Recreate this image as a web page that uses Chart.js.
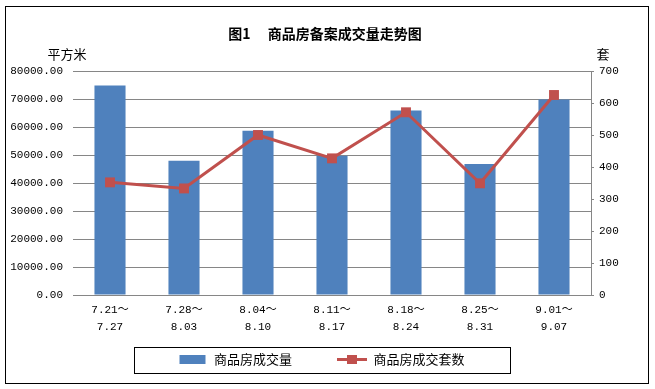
<!DOCTYPE html>
<html>
<head>
<meta charset="utf-8">
<title>商品房备案成交量走势图</title>
<script src="https://cdn.jsdelivr.net/npm/chart.js@4.4.1/dist/chart.umd.min.js"></script>
<style>
    html, body { margin: 0; padding: 0; background: #fff; }
    canvas { display: block; }
</style>
</head>
<body>
<canvas id="trendChart" width="655" height="389"></canvas>
<script>
const chartTitle = '图1　 商品房备案成交量走势图';
const leftUnit = '平方米';
const rightUnit = '套';
const weekLabels = [
    ['7.21～', '7.27'],
    ['7.28～', '8.03'],
    ['8.04～', '8.10'],
    ['8.11～', '8.17'],
    ['8.18～', '8.24'],
    ['8.25～', '8.31'],
    ['9.01～', '9.07']
];
const areaSold = [74800, 47960, 58700, 49750, 65860, 46780, 69800];
const unitsSold = [352, 333, 500, 427, 571, 349, 625];
const areaAxis = { max: 80000, step: 10000 };
const unitAxis = { max: 700, step: 100 };

const BLUE = '#4F81BD';
const RED = '#C0504D';
const GRID = '#868686';
const tickFont = { family: "'Liberation Mono', 'Noto Sans CJK SC', monospace", size: 11 };
const cjkFont = "'Noto Sans CJK SC', sans-serif";
const ICON_W = 30;

function makeIcon(draw) {
    const c = document.createElement('canvas');
    c.width = ICON_W;
    c.height = 11;
    draw(c.getContext('2d'));
    return c;
}

const barIcon = makeIcon((ctx) => {
    ctx.fillStyle = BLUE;
    ctx.fillRect(2, 1, 26, 9);
});
const lineIcon = makeIcon((ctx) => {
    ctx.strokeStyle = RED;
    ctx.lineWidth = 3;
    ctx.beginPath();
    ctx.moveTo(0, 5.5);
    ctx.lineTo(ICON_W, 5.5);
    ctx.stroke();
    ctx.fillStyle = RED;
    ctx.fillRect(10, 1, 10, 9);
});

const framePlugin = {
    id: 'frame',
    beforeDraw(chart) {
        const ctx = chart.ctx;
        ctx.save();
        ctx.fillStyle = '#fff';
        ctx.fillRect(0, 0, chart.width, chart.height);
        ctx.restore();
    },
    afterDraw(chart) {
        const ctx = chart.ctx;
        const { left, right, top } = chart.chartArea;
        ctx.save();
        ctx.strokeStyle = '#000';
        ctx.lineWidth = 1;
        ctx.strokeRect(5.5, 6.5, 643, 377);

        ctx.fillStyle = '#000';
        ctx.textAlign = 'center';
        ctx.textBaseline = 'middle';
        ctx.font = `bold 14px ${cjkFont}`;
        ctx.fillText(chartTitle, 325, 34);

        ctx.font = `13px ${cjkFont}`;
        ctx.fillText(leftUnit, left - 6, top - 17);
        ctx.fillText(rightUnit, right + 12, top - 17);

        // box round the legend, measured on the visible icon and text
        const boxes = chart.legend.legendHitBoxes;
        const items = chart.legend.legendItems;
        if (boxes && boxes.length) {
            const first = boxes[0];
            const last = boxes[boxes.length - 1];
            const lastText = items[items.length - 1].text.trim();
            const cy = first.top + first.height / 2;
            const x0 = Math.round(first.left + 2 - 45) + 0.5;
            const x1 = Math.round(last.left + ICON_W + 6.5 + ctx.measureText(lastText).width + 45) + 0.5;
            const y0 = Math.round(cy - 13) + 0.5;
            ctx.strokeRect(x0, y0, x1 - x0, 26);
        }
        ctx.restore();
    }
};

new Chart(document.getElementById('trendChart'), {
    data: {
        labels: weekLabels,
        datasets: [
            {
                type: 'bar',
                label: '商品房成交量',
                data: areaSold,
                yAxisID: 'y',
                order: 2,
                backgroundColor: BLUE,
                borderWidth: 0,
                barPercentage: 0.42,
                categoryPercentage: 1
            },
            {
                type: 'line',
                label: '商品房成交套数',
                data: unitsSold,
                yAxisID: 'y1',
                order: 1,
                borderColor: RED,
                backgroundColor: RED,
                borderWidth: 3,
                tension: 0,
                fill: false,
                pointStyle: 'rect',
                pointRadius: 7,
                pointBorderWidth: 0
            }
        ]
    },
    options: {
        responsive: false,
        animation: false,
        devicePixelRatio: 1,
        layout: { padding: { top: 71, left: 6, right: 6, bottom: 13 } },
        plugins: {
            title: { display: false },
            tooltip: { enabled: false },
            legend: {
                position: 'bottom',
                labels: {
                    color: '#000',
                    font: { family: cjkFont, size: 13 },
                    usePointStyle: true,
                    pointStyleWidth: ICON_W,
                    padding: 6,
                    sort: (a, b) => a.datasetIndex - b.datasetIndex,
                    generateLabels: (chart) => {
                        const items = Chart.defaults.plugins.legend.labels.generateLabels(chart);
                        items.forEach((item) => {
                            if (item.datasetIndex === 0) {
                                item.pointStyle = barIcon;
                                item.text = item.text + '　　　';
                            } else {
                                item.pointStyle = lineIcon;
                                item.text = item.text + '　';
                            }
                        });
                        return items;
                    }
                }
            }
        },
        scales: {
            x: {
                grid: { display: false, drawTicks: false },
                border: { display: false },
                ticks: {
                    color: '#000',
                    font: { ...tickFont, lineHeight: 1.55 },
                    padding: 7,
                    maxRotation: 0,
                    autoSkip: false
                },
                afterFit: (scale) => { scale.height = 52; }
            },
            y: {
                position: 'left',
                min: 0,
                max: areaAxis.max,
                grid: { color: GRID, drawTicks: false },
                border: { display: false },
                ticks: {
                    stepSize: areaAxis.step,
                    color: '#000',
                    font: tickFont,
                    padding: 10,
                    callback: (value) => value.toFixed(2)
                },
                afterFit: (scale) => { scale.width = 67; }
            },
            y1: {
                position: 'right',
                min: 0,
                max: unitAxis.max,
                grid: { drawOnChartArea: false, color: GRID, tickLength: 3 },
                border: { display: true, color: GRID },
                ticks: {
                    stepSize: unitAxis.step,
                    color: '#000',
                    font: tickFont,
                    padding: 5
                },
                afterFit: (scale) => { scale.width = 58; }
            }
        }
    },
    plugins: [framePlugin]
});
</script>
</body>
</html>
